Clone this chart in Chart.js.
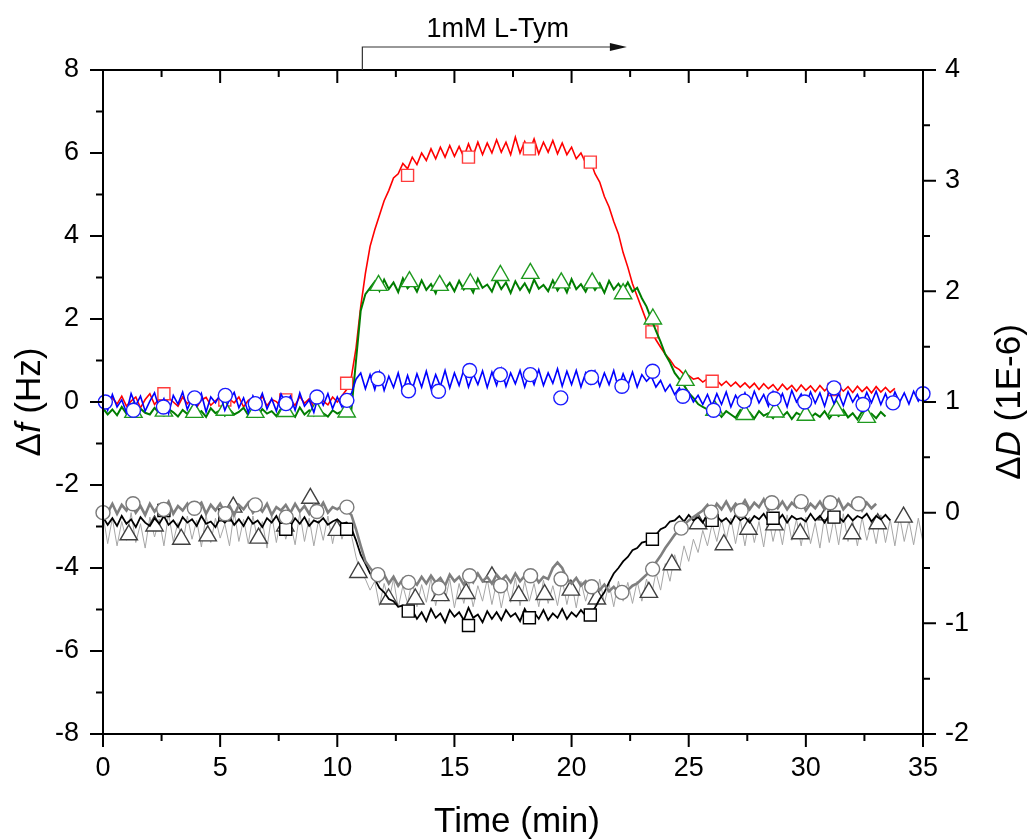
<!DOCTYPE html>
<html>
<head>
<meta charset="utf-8">
<title>QCM-D response to 1mM L-Tym</title>
<script src="https://cdn.jsdelivr.net/npm/chart.js@4.4.1/dist/chart.umd.min.js"></script>
<style>
  html, body { margin: 0; padding: 0; background: #fff; }
  #wrap { width: 1029px; height: 840px; }
</style>
</head>
<body>
<div id="wrap"><canvas id="chart" width="1029" height="840"></canvas></div>
<script>
// Time axis (min), one sample every 0.2 min
const times = [
  0,0.2,0.4,0.6,0.8,1,1.2,1.4,1.6,1.8,
  2,2.2,2.4,2.6,2.8,3,3.2,3.4,3.6,3.8,
  4,4.2,4.4,4.6,4.8,5,5.2,5.4,5.6,5.8,
  6,6.2,6.4,6.6,6.8,7,7.2,7.4,7.6,7.8,
  8,8.2,8.4,8.6,8.8,9,9.2,9.4,9.6,9.8,
  10,10.2,10.4,10.6,10.8,11,11.2,11.4,11.6,11.8,
  12,12.2,12.4,12.6,12.8,13,13.2,13.4,13.6,13.8,
  14,14.2,14.4,14.6,14.8,15,15.2,15.4,15.6,15.8,
  16,16.2,16.4,16.6,16.8,17,17.2,17.4,17.6,17.8,
  18,18.2,18.4,18.6,18.8,19,19.2,19.4,19.6,19.8,
  20,20.2,20.4,20.6,20.8,21,21.2,21.4,21.6,21.8,
  22,22.2,22.4,22.6,22.8,23,23.2,23.4,23.6,23.8,
  24,24.2,24.4,24.6,24.8,25,25.2,25.4,25.6,25.8,
  26,26.2,26.4,26.6,26.8,27,27.2,27.4,27.6,27.8,
  28,28.2,28.4,28.6,28.8,29,29.2,29.4,29.6,29.8,
  30,30.2,30.4,30.6,30.8,31,31.2,31.4,31.6,31.8,
  32,32.2,32.4,32.6,32.8,33,33.2,33.4,33.6,33.8,
  34,34.2,34.4,34.6,34.8,35
];

// Frequency shifts, left axis (Hz)
const redF = [
  0.05,-0.12,0.1,-0.05,0.14,-0.1,0.02,0.12,-0.14,0.06,
  0.2,-0.06,0.08,-0.12,0.1,0.0,-0.1,0.12,-0.04,0.09,
  -0.13,0.05,0.11,-0.08,0.03,0.13,-0.1,0.07,-0.02,0.12,
  -0.12,0.04,0.1,-0.06,0.14,-0.09,0.06,0.01,-0.11,0.1,
  0.04,-0.08,0.13,-0.03,0.08,-0.12,0.1,0.02,-0.07,0.12,
  0.0,0.15,0.3,
  0.6,1.3,2.3,3.1,3.75,4.15,4.5,4.85,5.1,5.4,
  5.5,5.75,5.62,5.9,5.72,6.0,5.82,6.1,5.86,6.14,
  5.9,6.18,5.92,6.16,5.9,6.22,5.94,6.26,5.96,6.24,
  6.0,6.32,6.02,6.26,5.96,6.38,6.0,6.28,6.04,6.34,
  5.98,6.26,6.02,6.3,5.98,6.24,5.96,6.14,5.86,6.0,
  5.76,5.82,5.5,5.3,4.95,4.7,4.35,4.05,3.6,3.25,
  2.85,2.55,2.25,1.95,1.72,1.5,1.32,1.15,1.02,0.85,
  0.78,0.66,0.64,0.55,0.58,0.48,0.56,0.44,0.52,0.4,
  0.5,0.38,0.48,0.36,0.46,0.34,0.45,0.3,0.44,0.32,
  0.42,0.28,0.43,0.3,0.4,0.26,0.41,0.28,0.39,0.25,
  0.4,0.27,0.38,0.24,0.39,0.26,0.37,0.23,0.38,0.25,
  0.36,0.22,0.37,0.24,0.35,0.23,0.33
];
const greenF = [
  -0.15,-0.3,-0.18,-0.32,-0.12,-0.28,-0.2,-0.34,-0.16,-0.26,
  -0.3,-0.14,-0.27,-0.33,-0.17,-0.25,-0.35,-0.19,-0.29,-0.13,
  -0.31,-0.22,-0.36,-0.15,-0.27,-0.2,-0.33,-0.18,-0.3,-0.24,
  -0.14,-0.32,-0.21,-0.35,-0.17,-0.28,-0.22,-0.34,-0.16,-0.29,
  -0.25,-0.36,-0.13,-0.3,-0.2,-0.33,-0.18,-0.27,-0.35,-0.2,
  -0.28,-0.22,-0.3,
  -0.2,1.0,2.2,2.6,2.75,
  2.9,2.68,2.95,2.72,2.88,2.65,2.98,2.74,2.86,2.66,
  2.93,2.7,2.84,2.62,2.96,2.73,2.87,2.67,2.92,2.71,
  2.85,2.64,2.97,2.75,2.83,2.66,2.94,2.72,2.88,2.63,
  2.91,2.7,2.86,2.65,2.95,2.73,2.82,2.67,2.93,2.69,
  2.87,2.64,2.96,2.72,2.84,2.66,2.9,2.7,2.86,2.63,
  2.92,2.71,2.85,2.68,2.88,2.66,
  2.75,2.5,2.3,2.0,1.72,1.45,1.15,0.95,0.7,0.55,0.4,0.22,0.1,-0.05,-0.12,
  -0.18,-0.32,-0.2,-0.36,-0.22,-0.3,-0.38,-0.2,-0.34,-0.25,
  -0.4,-0.22,-0.33,-0.27,-0.39,-0.21,-0.35,-0.24,-0.41,-0.26,
  -0.32,-0.2,-0.38,-0.28,-0.36,-0.22,-0.4,-0.25,-0.34,-0.19,
  -0.37,-0.27,-0.42,-0.23,-0.33,-0.28,-0.39,-0.24,-0.35
];
const blueF = [
  0.1,-0.2,0.18,-0.12,0.05,-0.25,0.2,-0.08,0.14,-0.22,
  0.02,0.22,-0.15,0.08,-0.28,0.16,-0.05,0.24,-0.18,0.1,
  -0.1,0.2,-0.24,0.12,-0.02,0.18,-0.2,0.06,0.23,-0.14,
  0.1,-0.26,0.15,-0.06,0.21,-0.17,0.08,-0.22,0.19,-0.04,
  0.14,-0.2,0.22,-0.1,0.05,-0.25,0.17,-0.08,0.2,-0.16,
  0.12,-0.12,0.15,
  0.2,0.55,
  0.7,0.32,0.66,0.3,0.72,0.28,0.62,0.35,0.7,0.26,
  0.64,0.3,0.68,0.36,0.74,0.32,0.66,0.38,0.76,0.34,
  0.7,0.4,0.78,0.36,0.68,0.42,0.75,0.35,0.72,0.4,
  0.8,0.38,0.7,0.44,0.76,0.36,0.72,0.42,0.78,0.4,
  0.7,0.45,0.8,0.38,0.74,0.42,0.76,0.36,0.7,0.44,
  0.74,0.38,0.7,0.42,0.76,0.34,0.68,0.4,0.72,0.36,
  0.66,0.5,
  0.62,0.36,0.52,0.26,0.42,0.18,0.34,0.08,0.24,0.0,0.16,-0.06,
  0.18,-0.1,0.2,-0.06,0.24,-0.12,0.16,-0.04,0.22,-0.08,
  0.26,-0.02,0.18,-0.1,0.25,-0.05,0.2,-0.12,0.28,0.0,
  0.19,-0.08,0.24,-0.03,0.22,-0.1,0.27,-0.04,0.2,-0.09,
  0.25,0.0,0.18,-0.07,0.23,-0.02,0.26,-0.06,0.2,-0.1,
  0.24,-0.01,0.22,-0.05,0.26,0.02,0.2
];

// Dissipation shifts, right axis (1E-6)
const blackD = [
  -0.04,-0.11,-0.05,-0.12,-0.03,-0.1,-0.06,-0.13,-0.04,-0.09,
  -0.12,-0.05,-0.1,-0.03,-0.11,-0.07,-0.13,-0.04,-0.09,-0.06,
  -0.12,-0.03,-0.1,-0.08,-0.13,-0.05,-0.09,-0.04,-0.11,-0.06,
  -0.12,-0.04,-0.1,-0.07,-0.13,-0.05,-0.09,-0.03,-0.11,-0.06,
  -0.12,-0.05,-0.1,-0.04,-0.12,-0.07,-0.09,-0.05,-0.11,-0.08,
  -0.06,-0.1,-0.09,
  -0.14,-0.25,-0.38,-0.46,-0.55,-0.6,-0.68,-0.72,-0.78,-0.8,-0.85,-0.84,-0.9,
  -0.88,-0.96,-0.9,-0.98,-0.87,-0.95,-0.91,-0.99,-0.88,-0.94,
  -0.9,-0.97,-0.86,-0.95,-0.92,-0.99,-0.89,-0.96,-0.9,-0.97,
  -0.88,-0.94,-0.91,-0.98,-0.87,-0.95,-0.9,-0.96,-0.88,-0.97,
  -0.91,-0.95,-0.87,-0.96,-0.9,-0.94,-0.88,-0.93,
  -0.92,-0.86,-0.78,-0.72,-0.63,-0.55,-0.5,-0.44,-0.4,-0.34,
  -0.32,-0.27,-0.26,-0.22,-0.2,-0.15,-0.13,-0.08,-0.07,
  -0.03,-0.08,-0.02,-0.07,-0.04,-0.09,-0.01,-0.06,-0.03,-0.08,
  -0.05,-0.1,-0.02,-0.07,-0.04,-0.09,-0.03,-0.06,-0.01,-0.08,
  -0.04,-0.07,-0.02,-0.09,-0.03,-0.06,-0.05,-0.08,-0.01,-0.07,
  -0.03,-0.09,-0.02,-0.06,-0.04,-0.08,-0.02,-0.07,-0.03,-0.05,
  -0.01,-0.08,-0.03,-0.06,-0.02,-0.07
];
const grayD = [
  0.06,0.0,0.08,-0.01,0.07,0.02,0.09,0.0,0.06,-0.02,
  0.08,0.01,0.07,0.03,0.1,-0.01,0.06,0.02,0.08,0.0,
  0.05,0.09,-0.01,0.07,0.02,0.08,0.0,0.06,-0.02,0.07,
  0.03,0.09,0.0,0.06,0.01,0.08,-0.02,0.05,0.02,0.07,
  0.0,0.08,0.01,0.06,-0.01,0.07,0.02,0.09,0.0,0.05,
  0.03,0.06,0.02,
  -0.02,-0.15,-0.3,-0.44,-0.5,
  -0.55,-0.62,-0.56,-0.64,-0.58,-0.66,-0.6,-0.67,-0.61,-0.65,
  -0.58,-0.64,-0.57,-0.63,-0.59,-0.66,-0.56,-0.62,-0.58,-0.65,
  -0.57,-0.63,-0.55,-0.62,-0.58,-0.64,-0.56,-0.61,-0.57,-0.63,
  -0.55,-0.62,-0.57,-0.6,-0.56,-0.63,-0.58,-0.6,
  -0.5,-0.45,-0.5,
  -0.6,-0.64,-0.59,-0.66,-0.62,-0.68,-0.64,-0.7,-0.65,-0.71,
  -0.67,-0.72,-0.69,-0.7,-0.66,-0.64,-0.6,
  -0.56,-0.52,-0.45,-0.39,-0.32,-0.26,-0.2,-0.15,-0.11,-0.07,-0.04,-0.01,
  0.02,0.07,0.0,0.08,0.03,0.1,0.02,0.08,0.04,0.11,
  0.03,0.09,0.05,0.12,0.02,0.08,0.04,0.1,0.03,0.09,
  0.05,0.11,0.02,0.08,0.04,0.1,0.03,0.09,0.06,0.12,
  0.03,0.08,0.05,0.1,0.02,0.09,0.04,0.08
];
const lightD = [
  -0.02,-0.28,-0.05,-0.3,-0.08,-0.25,0.0,-0.27,-0.1,-0.32,
  -0.04,-0.22,-0.06,-0.3,-0.01,-0.26,-0.09,-0.29,-0.03,-0.24,
  -0.07,-0.31,-0.02,-0.27,-0.05,-0.23,-0.1,-0.3,0.01,-0.26,
  -0.06,-0.28,-0.03,-0.25,-0.08,-0.32,-0.02,-0.27,-0.04,-0.24,
  -0.09,-0.29,0.0,-0.26,-0.05,-0.3,-0.07,-0.25,-0.03,-0.28,
  -0.06,-0.24,-0.1,
  -0.2,-0.4,-0.55,-0.6,-0.7,
  -0.62,-0.84,-0.64,-0.8,-0.6,-0.86,-0.66,-0.82,-0.61,-0.85,
  -0.65,-0.81,-0.59,-0.84,-0.63,-0.8,-0.6,-0.86,-0.64,-0.82,
  -0.62,-0.85,-0.66,-0.8,-0.6,-0.83,-0.63,-0.86,-0.65,-0.81,
  -0.59,-0.84,-0.62,-0.8,-0.64,-0.85,-0.61,-0.82,-0.66,-0.84,
  -0.6,-0.83,-0.63,-0.86,-0.62,-0.8,-0.65,-0.84,-0.6,-0.82,
  -0.64,-0.85,-0.62,-0.8,-0.63,-0.82,
  -0.62,-0.8,-0.6,-0.76,-0.54,-0.7,-0.46,-0.62,-0.38,-0.52,
  -0.3,-0.44,-0.24,-0.36,-0.16,-0.3,-0.1,-0.26,-0.06,-0.24,
  -0.05,-0.28,-0.06,-0.3,-0.04,-0.27,-0.08,-0.31,-0.03,-0.26,
  -0.07,-0.29,-0.02,-0.25,-0.06,-0.3,-0.04,-0.28,-0.09,-0.32,
  -0.03,-0.27,-0.05,-0.29,-0.01,-0.26,-0.07,-0.3,-0.04,-0.25,
  -0.08,-0.28,-0.02,-0.27,-0.06,-0.3,-0.03,-0.26,-0.07,-0.29,
  -0.05,-0.27
];

// Symbol positions (time, value)
const redMarkT = [2.6,5.2,7.8,10.4,13.0,15.6,18.2,20.8,23.43,26.0,31.2];
const redMarkV = [0.2,0.05,0.05,0.45,5.46,5.9,6.1,5.78,1.69,0.5,0.3];
const greenMarkT = [1.3,2.6,3.9,5.2,6.5,7.8,9.1,10.4,11.76,13.08,14.37,15.68,16.96,18.24,19.56,20.88,22.2,23.47,24.86,26.1,27.4,28.7,30.0,31.3,32.6];
const greenMarkV = [-0.25,-0.22,-0.25,-0.2,-0.25,-0.23,-0.22,-0.24,2.81,2.9,2.81,2.85,3.05,3.1,2.87,2.87,2.61,2.0,0.52,-0.2,-0.3,-0.24,-0.32,-0.2,-0.37];
const blueMarkT = [0.1,1.3,2.58,3.91,5.22,6.5,7.81,9.13,10.41,11.74,13.04,14.32,15.65,16.96,18.24,19.54,20.85,22.15,23.46,24.75,26.06,27.37,28.65,29.95,31.2,32.44,33.72,35.0];
const blueMarkV = [0.0,-0.2,-0.12,0.1,0.16,-0.04,-0.04,0.12,0.04,0.56,0.27,0.26,0.76,0.66,0.66,0.1,0.59,0.38,0.74,0.14,-0.2,0.02,0.08,0.0,0.34,-0.06,-0.02,0.2];
const blackMarkT = [2.6,5.2,7.8,10.4,13.03,15.6,18.2,20.8,23.45,26.0,28.6,31.2];
const blackMarkV = [0.02,-0.02,-0.15,-0.15,-0.89,-1.02,-0.95,-0.925,-0.24,-0.07,-0.05,-0.04];
const lightMarkT = [1.1,2.2,3.34,4.47,5.56,6.64,7.78,8.85,9.98,10.9,12.19,13.33,14.4,15.5,16.6,17.74,18.85,19.97,21.08,23.3,24.28,25.4,26.5,27.55,28.66,29.76,30.9,31.97,33.07,34.17];
const lightMarkV = [-0.2,-0.12,-0.24,-0.21,0.05,-0.23,-0.12,0.13,-0.16,-0.54,-0.78,-0.78,-0.75,-0.73,-0.58,-0.75,-0.74,-0.7,-0.78,-0.72,-0.47,-0.1,-0.29,-0.15,-0.11,-0.19,-0.02,-0.19,-0.1,-0.04];
const grayMarkT = [0.0,1.28,2.59,3.9,5.22,6.5,7.82,9.13,10.41,11.73,13.04,14.33,15.65,16.97,18.25,19.55,20.86,22.15,23.46,24.68,25.96,27.24,28.55,29.8,31.04,32.25];
const grayMarkV = [0.0,0.08,0.03,0.04,-0.01,0.07,-0.04,0.01,0.05,-0.56,-0.63,-0.68,-0.57,-0.66,-0.57,-0.6,-0.67,-0.72,-0.51,-0.14,0.005,0.02,0.09,0.1,0.09,0.08];

// Injection annotation
const injectLabel = '1mM L-Tym';
const injectStart = 11.07;
const injectEnd = 22.36;
const injectLabelT = 16.85;

const FONT = "'Liberation Sans', Arial, Helvetica, sans-serif";
Chart.defaults.font.family = FONT;

function linePts(vals) {
  return vals.map((v, i) => ({ x: times[i], y: v }));
}
function markPts(ts, vs) {
  return ts.map((t, i) => ({ x: t, y: vs[i] }));
}

function lineSet(vals, color, axis, width, order) {
  return {
    data: linePts(vals), yAxisID: axis, borderColor: color, borderWidth: width,
    pointRadius: 0, tension: 0, fill: false, order: order
  };
}
function markSet(ts, vs, style, radius, color, axis, order) {
  return {
    data: markPts(ts, vs), yAxisID: axis, showLine: false, pointStyle: style,
    pointRadius: radius, pointBackgroundColor: '#fff', pointBorderColor: color,
    pointBorderWidth: 1.4, order: order, clip: false
  };
}

function drawRich(ctx, parts, size) {
  let total = 0;
  parts.forEach(p => {
    ctx.font = (p.it ? 'italic ' : '') + size + 'px ' + FONT;
    p.w = ctx.measureText(p.t).width;
    total += p.w;
  });
  let cx = -total / 2;
  parts.forEach(p => {
    ctx.font = (p.it ? 'italic ' : '') + size + 'px ' + FONT;
    ctx.fillText(p.t, cx, 0);
    cx += p.w;
  });
}

const framePlugin = {
  id: 'frame',
  afterDraw(chart) {
    const { ctx, chartArea: a, scales } = chart;
    const sx = scales.x, sy = scales.y, sy1 = scales.y1;
    ctx.save();
    ctx.strokeStyle = '#000';
    ctx.lineWidth = 2;
    ctx.strokeRect(a.left, a.top, a.right - a.left, a.bottom - a.top);

    // tick marks: bottom/left/right outward, top inward
    ctx.beginPath();
    for (let k = 0; k <= 14; k++) {
      const px = sx.getPixelForValue(k * 2.5);
      const len = k % 2 === 0 ? 13 : 7;
      ctx.moveTo(px, a.bottom); ctx.lineTo(px, a.bottom + len);
      ctx.moveTo(px, a.top); ctx.lineTo(px, a.top + len);
    }
    for (let v = -8; v <= 8; v++) {
      const py = sy.getPixelForValue(v);
      const len = v % 2 === 0 ? 13 : 7;
      ctx.moveTo(a.left, py); ctx.lineTo(a.left - len, py);
    }
    for (let k = -4; k <= 8; k++) {
      const py = sy1.getPixelForValue(k / 2);
      const len = k % 2 === 0 ? 13 : 7;
      ctx.moveTo(a.right, py); ctx.lineTo(a.right + len, py);
    }
    ctx.stroke();

    // axis titles
    ctx.fillStyle = '#000';
    ctx.textBaseline = 'alphabetic';
    ctx.textAlign = 'left';
    ctx.save();
    ctx.translate((a.left + a.right) / 2 + 4, 832);
    drawRich(ctx, [{ t: 'Time (min)' }], 35);
    ctx.restore();

    ctx.save();
    ctx.translate(40, (a.top + a.bottom) / 2);
    ctx.rotate(-Math.PI / 2);
    drawRich(ctx, [{ t: '\u0394' }, { t: 'f', it: true }, { t: ' (Hz)' }], 35);
    ctx.restore();

    ctx.save();
    ctx.translate(1020, (a.top + a.bottom) / 2);
    ctx.rotate(-Math.PI / 2);
    drawRich(ctx, [{ t: '\u0394' }, { t: 'D', it: true }, { t: ' (1E-6)' }], 35);
    ctx.restore();

    // injection bracket and arrow
    const x0 = sx.getPixelForValue(injectStart);
    const x1 = sx.getPixelForValue(injectEnd);
    const yb = a.top - 23;
    ctx.strokeStyle = '#333';
    ctx.lineWidth = 1.2;
    ctx.beginPath();
    ctx.moveTo(x0, a.top);
    ctx.lineTo(x0, yb);
    ctx.lineTo(x1 - 14, yb);
    ctx.stroke();
    ctx.fillStyle = '#111';
    ctx.beginPath();
    ctx.moveTo(x1, yb);
    ctx.lineTo(x1 - 17, yb - 4);
    ctx.lineTo(x1 - 17, yb + 4);
    ctx.closePath();
    ctx.fill();

    ctx.fillStyle = '#000';
    ctx.save();
    ctx.translate(sx.getPixelForValue(injectLabelT), 37);
    drawRich(ctx, [{ t: injectLabel }], 27);
    ctx.restore();

    ctx.restore();
  }
};

const tickFont = { size: 27, family: FONT };
const noGrid = { display: false, drawTicks: false, tickLength: 0 };

new Chart(document.getElementById('chart'), {
  type: 'line',
  data: {
    datasets: [
      lineSet(redF, '#ff0000', 'y', 1.6, 12),
      markSet(redMarkT, redMarkV, 'rect', 8.5, '#ff3b3b', 'y', 11),
      lineSet(greenF, '#007d00', 'y', 2, 10),
      markSet(greenMarkT, greenMarkV, 'triangle', 10, '#1f9a1f', 'y', 9),
      lineSet(blueF, '#0000ff', 'y', 1.6, 8),
      markSet(blueMarkT, blueMarkV, 'circle', 7, '#1a1aff', 'y', 7),
      lineSet(lightD, '#a6a6a6', 'y1', 1, 6),
      markSet(lightMarkT, lightMarkV, 'triangle', 10, '#404040', 'y1', 5),
      lineSet(blackD, '#000000', 'y1', 1.8, 4),
      markSet(blackMarkT, blackMarkV, 'rect', 8.5, '#000000', 'y1', 3),
      lineSet(grayD, '#7f7f7f', 'y1', 2.6, 2),
      markSet(grayMarkT, grayMarkV, 'circle', 7, '#7a7a7a', 'y1', 1)
    ]
  },
  options: {
    responsive: false,
    animation: false,
    layout: { padding: { top: 70, left: 0, right: 0, bottom: 0 } },
    plugins: { legend: { display: false }, tooltip: { enabled: false } },
    scales: {
      x: {
        type: 'linear', position: 'bottom', min: 0, max: 35,
        ticks: { stepSize: 5, color: '#000', font: tickFont, padding: 18, maxRotation: 0, autoSkip: false },
        grid: noGrid, border: { display: false },
        afterFit: s => { s.height = 106; }
      },
      y: {
        type: 'linear', position: 'left', min: -8, max: 8,
        ticks: { stepSize: 2, color: '#000', font: tickFont, padding: 24 },
        grid: noGrid, border: { display: false },
        afterFit: s => { s.width = 103; }
      },
      y1: {
        type: 'linear', position: 'right', min: -2, max: 4,
        ticks: { stepSize: 1, color: '#000', font: tickFont, padding: 22 },
        grid: noGrid, border: { display: false },
        afterFit: s => { s.width = 106; }
      }
    }
  },
  plugins: [framePlugin]
});
</script>
</body>
</html>
